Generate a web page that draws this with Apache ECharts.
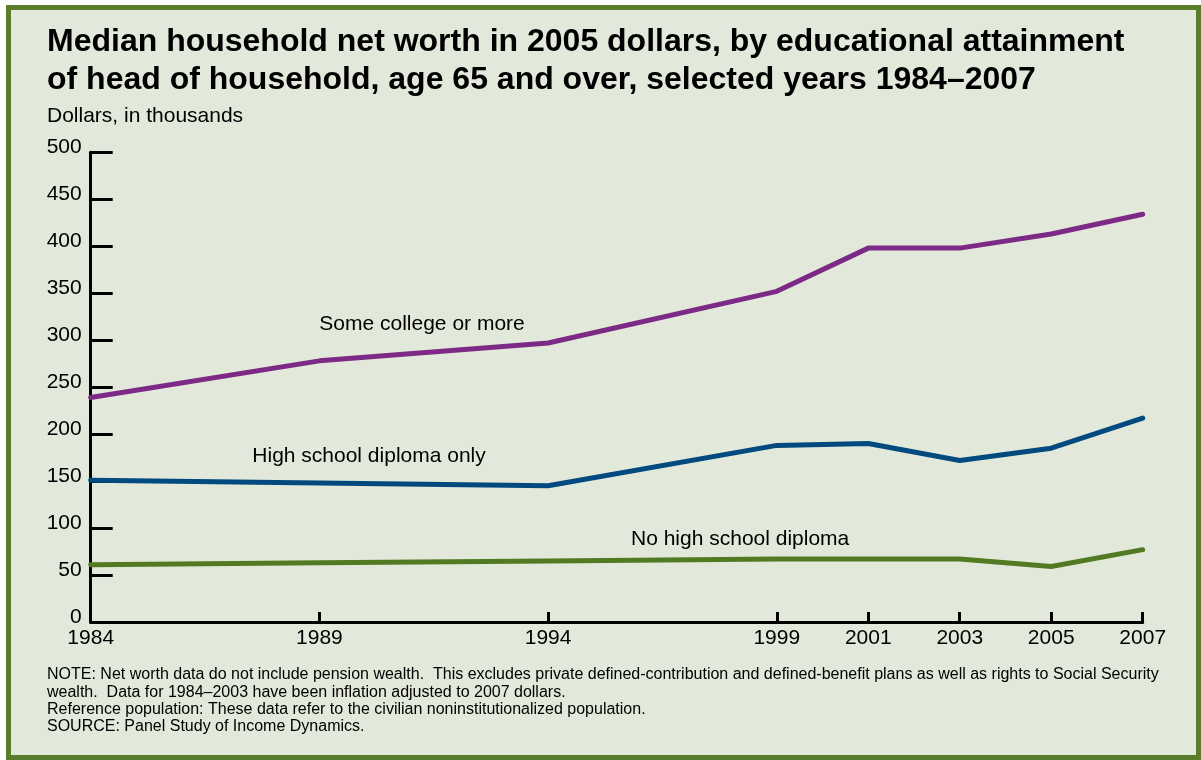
<!DOCTYPE html>
<html>
<head>
<meta charset="utf-8">
<script src="https://cdn.jsdelivr.net/npm/echarts@6/dist/echarts.min.js"></script>
<style>
  html, body { margin: 0; padding: 0; background: #ffffff; }
  #chart { width: 1201px; height: 760px; }
</style>
</head>
<body>
<div id="chart"></div>
<script>
// Survey years (x positions are proportional to the calendar year)
const years = [1984, 1989, 1994, 1999, 2001, 2003, 2005, 2007];
const yTicks = [0, 50, 100, 150, 200, 250, 300, 350, 400, 450, 500];

// Median net worth, thousands of 2005 dollars
const someCollege = [239, 278, 297, 352, 398, 398, 413, 434];
const highSchoolOnly = [151, 148, 145, 188, 190, 172, 185, 217];
const noHighSchool = [61, 63, 65, 67, 67, 67, 59, 77];

const seriesNames = ['Some college or more', 'High school diploma only', 'No high school diploma'];

const titleLines = [
  'Median household net worth in 2005 dollars, by educational attainment',
  'of head of household, age 65 and over, selected years 1984\u20132007'
];
const unitLabel = 'Dollars, in thousands';
const noteLines = [
  'NOTE: Net worth data do not include pension wealth.  This excludes private defined-contribution and defined-benefit plans as well as rights to Social Security',
  'wealth.  Data for 1984\u20132003 have been inflation adjusted to 2007 dollars.',
  'Reference population: These data refer to the civilian noninstitutionalized population.',
  'SOURCE: Panel Study of Income Dynamics.'
];

const FONT = 'Liberation Sans, Arial, Helvetica, sans-serif';
const BG = '#e2e8da';
const FRAME = '#5a7d2b';
const COLORS = ['#7d2a86', '#004a80', '#527a22'];

const pairs = (vals) => years.map((y, i) => [y, vals[i]]);

const chart = echarts.init(document.getElementById('chart'), null, { renderer: 'canvas' });

const textEl = (text, x, y, size, weight) => ({
  type: 'text',
  x: x, y: y,
  z: 5,
  style: {
    text: text,
    fill: '#000000',
    font: (weight || 'normal') + ' ' + size + 'px ' + FONT,
    verticalAlign: 'middle',
    align: 'left'
  }
});

const option = {
  backgroundColor: '#ffffff',
  animation: false,
  grid: { left: 90.7, right: 58.3, top: 152.3, bottom: 138, containLabel: false },
  xAxis: {
    type: 'value',
    min: 1984,
    max: 2007,
    axisLine: { show: true, lineStyle: { color: '#000', width: 3 } },
    axisTick: { show: true, inside: true, length: 10, lineStyle: { color: '#000', width: 3 }, customValues: years },
    axisLabel: { show: true, customValues: years, fontSize: 21, fontFamily: FONT, color: '#000', margin: 6, formatter: v => String(v) },
    splitLine: { show: false }
  },
  yAxis: {
    type: 'value',
    min: 0,
    max: 500,
    interval: 50,
    axisLine: { show: true, lineStyle: { color: '#000', width: 3 } },
    axisTick: { show: true, inside: true, length: 22, lineStyle: { color: '#000', width: 3 } },
    // labels sit slightly above their tick marks
    axisLabel: { fontSize: 21, fontFamily: FONT, color: '#000', margin: 9, verticalAlign: 'bottom', lineHeight: 10 },
    splitLine: { show: false }
  },
  series: [
    { name: seriesNames[0], data: pairs(someCollege) },
    { name: seriesNames[1], data: pairs(highSchoolOnly) },
    { name: seriesNames[2], data: pairs(noHighSchool) }
  ].map((s, i) => Object.assign({
    type: 'line',
    symbol: 'none',
    z: 3,
    lineStyle: { color: COLORS[i], width: 5, cap: 'round', join: 'round' }
  }, s)),
  graphic: [
    {
      type: 'rect',
      z: -10,
      shape: { x: 8.5, y: 7.5, width: 1190, height: 750 },
      style: { fill: BG, stroke: FRAME, lineWidth: 5 }
    },
    textEl(titleLines[0], 47, 42.2, 32, 'bold'),
    textEl(titleLines[1], 47, 80.6, 32, 'bold'),
    textEl(unitLabel, 47, 116.7, 21),
    textEl(seriesNames[0], 319.3, 324.2, 21),
    textEl(seriesNames[1], 252.3, 456, 21),
    textEl(seriesNames[2], 631, 539.4, 21),
    textEl(noteLines[0], 47, 674.5, 16),
    textEl(noteLines[1], 47, 692.8, 16),
    textEl(noteLines[2], 47, 709.5, 16),
    textEl(noteLines[3], 47, 726.8, 16)
  ]
};

chart.setOption(option);
</script>
</body>
</html>
